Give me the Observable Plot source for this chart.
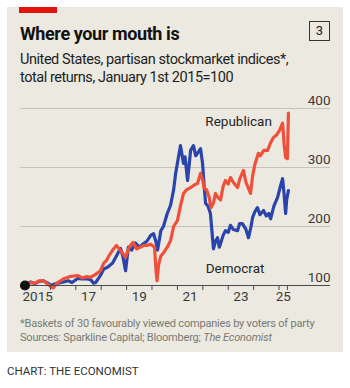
<!DOCTYPE html>
<html>
<head>
<meta charset="utf-8">
<script src="https://cdn.jsdelivr.net/npm/d3@7"></script>
<script src="https://cdn.jsdelivr.net/npm/@observablehq/plot@0.6"></script>
<style>
  html, body { margin: 0; padding: 0; background: #ffffff; }
  #wrap { position: relative; width: 350px; height: 388px; overflow: hidden; font-family: Roboto, "Open Sans", sans-serif; }
  #panel { position: absolute; left: 7px; top: 7px; width: 336px; height: 345px; background: #ebe9e0; }
  #redbar { position: absolute; left: 19px; top: 7px; width: 38px; height: 6px; background: #e3120b; }
  #title { position: absolute; left: 20px; top: 23px; font-size: 18px; font-weight: 700; color: #121212; letter-spacing: -0.4px; white-space: nowrap; }
  #num { position: absolute; left: 309px; top: 21px; width: 19px; height: 18px; border: 1.3px solid #333; font-size: 13px; line-height: 18px; text-align: center; color: #222; }
  #subtitle { position: absolute; left: 20px; top: 51px; font-size: 14.5px; line-height: 18px; color: #1e1e1e; letter-spacing: -0.45px; white-space: nowrap; }
  #chart { position: absolute; left: 0; top: 90px; }
  #note { position: absolute; left: 20px; top: 317px; font-size: 11px; line-height: 14px; color: #7a7a72; letter-spacing: -0.2px; white-space: nowrap; }
  #credit { position: absolute; left: 7px; top: 364px; font-size: 11.5px; color: #333; letter-spacing: 0px; white-space: nowrap; }
</style>
</head>
<body>
<div id="wrap">
  <div id="panel"></div>
  <div id="redbar"></div>
  <div id="title">Where your mouth is</div>
  <div id="num">3</div>
  <div id="subtitle">United States, partisan stockmarket indices*,<br>total returns, January 1st 2015=100</div>
  <div id="chart"></div>
  <div id="note">*Baskets of 30 favourably viewed companies by voters of party<br>Sources: Sparkline Capital; Bloomberg; <i>The Economist</i></div>
  <div id="credit">CHART: THE ECONOMIST</div>
</div>
<script>
// Decimal-year dates and index values
const demYears = [2015.00,2015.10,2015.22,2015.40,2015.55,2015.73,2015.90,2016.05,2016.12,2016.30,2016.52,2016.70,2016.85,2017.07,2017.25,2017.45,2017.58,2017.70,2017.78,2017.97,2018.10,2018.25,2018.45,2018.60,2018.76,2018.85,2018.96,2019.07,2019.20,2019.35,2019.50,2019.67,2019.80,2019.95,2020.06,2020.15,2020.22,2020.35,2020.45,2020.60,2020.73,2020.85,2020.93,2021.05,2021.12,2021.24,2021.30,2021.40,2021.52,2021.63,2021.72,2021.79,2021.91,2021.99,2022.05,2022.11,2022.20,2022.30,2022.42,2022.50,2022.58,2022.65,2022.70,2022.80,2022.89,2023.00,2023.09,2023.20,2023.37,2023.45,2023.56,2023.70,2023.80,2023.90,2023.96,2024.05,2024.15,2024.25,2024.39,2024.50,2024.60,2024.67,2024.80,2024.94,2025.06,2025.14,2025.20,2025.26,2025.30,2025.37];
const demValues = [100,104,106,103,107,108,104,100,102,104,106,108,105,112,111,111,110,104,105,117,128,131,138,150,163,150,125,165,160,172,165,171,175,185,188,175,160,193,200,222,236,262,290,320,337,307,318,278,329,337,320,324,332,307,270,239,235,222,162,175,181,165,171,185,193,190,202,195,193,205,205,195,181,200,215,225,232,220,227,218,222,213,235,249,269,281,255,222,245,261];
const repYears = [2015.00,2015.10,2015.22,2015.40,2015.55,2015.73,2015.90,2016.05,2016.12,2016.25,2016.40,2016.55,2016.75,2017.07,2017.25,2017.45,2017.58,2017.75,2017.97,2018.10,2018.20,2018.30,2018.45,2018.60,2018.75,2018.96,2019.10,2019.25,2019.40,2019.55,2019.67,2019.80,2019.95,2020.10,2020.16,2020.20,2020.26,2020.35,2020.45,2020.60,2020.73,2020.85,2021.00,2021.12,2021.24,2021.35,2021.52,2021.65,2021.79,2021.91,2021.99,2022.05,2022.15,2022.25,2022.32,2022.42,2022.50,2022.58,2022.70,2022.80,2022.89,2023.00,2023.09,2023.20,2023.37,2023.45,2023.60,2023.70,2023.88,2023.96,2024.05,2024.19,2024.27,2024.40,2024.55,2024.67,2024.78,2024.90,2025.02,2025.14,2025.20,2025.26,2025.33,2025.37];
const repValues = [100,103,105,104,108,108,102,97,96,104,108,112,115,117,113,115,114,118,125,138,142,150,160,168,160,148,165,173,162,165,168,168,170,165,125,108,135,150,155,165,176,200,210,235,256,262,266,270,273,290,280,265,262,250,232,240,256,250,245,268,278,272,283,275,266,280,295,275,256,285,305,324,320,329,329,342,351,355,363,375,340,317,315,392];
const yTicks = [100, 200, 300, 400];
const xTickYears = [2015, 2016, 2017, 2018, 2019, 2020, 2021, 2022, 2023, 2024, 2025, 2025.33];
const xLabelYears = [2015.5, 2017.5, 2019.5, 2021.5, 2023.5, 2025.17];
const xLabels = ["2015", "17", "19", "21", "23", "25"];
const seriesLabels = ["Republican", "Democrat"];

const toDate = t => {
  const y = Math.floor(t);
  const a = Date.UTC(y, 0, 1), b = Date.UTC(y + 1, 0, 1);
  return new Date(a + (t - y) * (b - a));
};
const dem = demYears.map((t, i) => ({date: toDate(t), value: demValues[i]}));
const rep = repYears.map((t, i) => ({date: toDate(t), value: repValues[i]}));
const labelRows = xLabelYears.map((t, i) => ({date: toDate(t), text: xLabels[i]}));
const seriesRows = [
  {name: seriesLabels[0], date: toDate(2023.41), value: 378},
  {name: seriesLabels[1], date: toDate(2023.27), value: 128}
];

const chart = Plot.plot({
  width: 350,
  height: 230,
  marginLeft: 20,
  marginRight: 20,
  marginTop: 18,
  marginBottom: 35,
  style: {fontFamily: "Roboto, sans-serif", background: "transparent", overflow: "visible"},
  x: {type: "utc", domain: [toDate(2014.823), toDate(2027.028)], axis: null},
  y: {domain: [100, 400], axis: null},
  marks: [
    Plot.ruleY(yTicks.filter(d => d > 100), {stroke: "#c6c3b9", strokeWidth: 1}),
    Plot.text(yTicks, {y: d => d, text: d => String(d), frameAnchor: "right", textAnchor: "end", dy: -8, fill: "#3a3a3a", fontSize: 13.5}),
    Plot.line(dem, {x: "date", y: "value", stroke: "#2a44ac", strokeWidth: 3.2, strokeLinejoin: "round"}),
    Plot.line(rep, {x: "date", y: "value", stroke: "#f0503a", strokeWidth: 3.2, strokeLinejoin: "round"}),
    Plot.ruleY([100], {stroke: "#4a4a4a", strokeWidth: 1.2}),
    Plot.ruleX(xTickYears.map(toDate), {x: d => d, y1: 100, y2: 91.5, stroke: "#4a4a4a", strokeWidth: 1}),
    Plot.text(labelRows, {x: "date", text: "text", frameAnchor: "bottom", dy: 15, fill: "#3a3a3a", fontSize: 13.5}),
    Plot.text(seriesRows, {x: "date", y: "value", text: "name", fill: "#262626", fontSize: 13.5}),
    Plot.dot([{date: toDate(2015), value: 100}], {x: "date", y: "value", r: 5, fill: "#111", stroke: null})
  ]
});
document.getElementById("chart").appendChild(chart);
</script>
</body>
</html>
